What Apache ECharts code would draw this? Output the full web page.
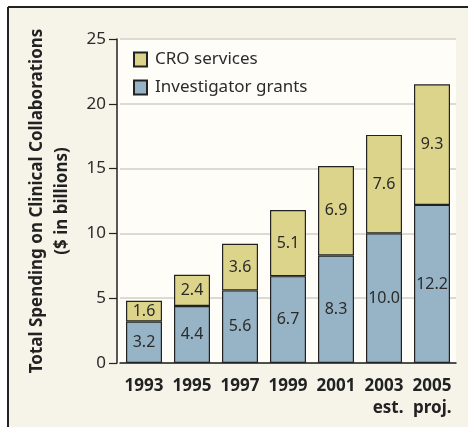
<!DOCTYPE html>
<html>
<head>
<meta charset="utf-8">
<script src="https://cdn.jsdelivr.net/npm/echarts@6/dist/echarts.min.js"></script>
<style>
html,body{margin:0;padding:0;background:#ffffff;}
#chart{width:468px;height:427px;}
</style>
</head>
<body>
<div id="chart"></div>
<script>
const years = ['1993', '1995', '1997', '1999', '2001', '2003', '2005'];
const yearNotes = ['', '', '', '', '', 'est.', 'proj.'];
const investigatorGrants = [3.2, 4.4, 5.6, 6.7, 8.3, 10.0, 12.2];
const croServices = [1.6, 2.4, 3.6, 5.1, 6.9, 7.6, 9.3];
const yTicks = [0, 5, 10, 15, 20, 25];

const chart = echarts.init(document.getElementById('chart'), null, {renderer: 'canvas'});
const FONT = '"Noto Sans", sans-serif';
const labelStyle = {
  show: true, position: 'inside', color: '#2b2b2b', fontFamily: FONT, fontSize: 16,
  formatter: p => p.value.toFixed(1)
};
chart.setOption({
  backgroundColor: '#ffffff',
  animation: false,
  graphic: [
    {type: 'rect', z: -20, shape: {x: 8, y: 7, width: 460, height: 420}, style: {fill: '#F6F3E8'}},
    {type: 'rect', z: -10, shape: {x: 117, y: 39, width: 339, height: 324}, style: {fill: '#FEFDF8'}},
    {type: 'line', z: 5, shape: {x1: 8, y1: 7, x2: 468, y2: 7}, style: {stroke: '#222', lineWidth: 2}},
    {type: 'line', z: 5, shape: {x1: 8, y1: 7, x2: 8, y2: 427}, style: {stroke: '#222', lineWidth: 2}}
  ],
  legend: {
    left: 133, top: 51, padding: 0, orient: 'vertical', itemWidth: 13, itemHeight: 14, itemGap: 11,
    textStyle: {fontFamily: FONT, fontSize: 17, color: '#2b2b2b', padding: [0, 0, 0, 3]},
    data: [{name: 'CRO services', icon: 'rect'}, {name: 'Investigator grants', icon: 'rect'}]
  },
  grid: {left: 120, width: 336, top: 39, bottom: 64, containLabel: false},
  xAxis: {
    type: 'category', data: years,
    axisLine: {lineStyle: {color: '#222', width: 1.5}},
    axisTick: {show: false},
    axisLabel: {
      margin: 12, interval: 0,
      formatter: (v, i) => yearNotes[i] ? '{y|' + v + '}\n{n|' + yearNotes[i] + '}' : '{y|' + v + '}',
      rich: {
        y: {fontFamily: FONT, fontWeight: 'bold', fontSize: 17, color: '#222', lineHeight: 22},
        n: {fontFamily: FONT, fontWeight: 'bold', fontSize: 17, color: '#222', lineHeight: 22, width: 39, align: 'right'}
      }
    }
  },
  yAxis: {
    type: 'value', min: 0, max: 25, interval: 5, offset: 3,
    name: 'Total Spending on Clinical Collaborations\n($ in billions)',
    nameLocation: 'middle', nameGap: 42, nameRotate: 90,
    nameTextStyle: {fontFamily: FONT, fontWeight: 'bold', fontSize: 17, color: '#222', lineHeight: 25},
    axisLine: {show: true, lineStyle: {color: '#222', width: 1.5}},
    axisTick: {show: true, length: 8, lineStyle: {color: '#222', width: 1.2}},
    axisLabel: {margin: 11, fontFamily: FONT, fontSize: 17, color: '#2b2b2b',
      formatter: v => yTicks.includes(v) ? String(v) : ''},
    splitLine: {show: true, lineStyle: {color: '#DCDAD5', width: 2}}
  },
  series: [
    {
      name: 'Investigator grants', type: 'bar', stack: 'total', data: investigatorGrants, barWidth: 36,
      itemStyle: {color: '#97B4C6', borderColor: '#222', borderWidth: 1.2},
      label: labelStyle
    },
    {
      name: 'CRO services', type: 'bar', stack: 'total', data: croServices, barWidth: 36,
      itemStyle: {color: '#DDD48C', borderColor: '#222', borderWidth: 1.2},
      label: labelStyle
    }
  ]
});
</script>
</body>
</html>
